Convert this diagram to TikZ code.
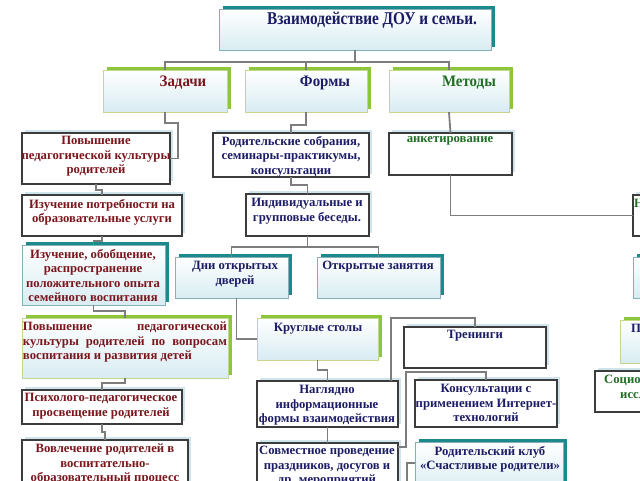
\documentclass[tikz,border=0pt]{standalone}
\usepackage{fontspec}
\setmainfont{Liberation Serif}
\usepackage{graphicx}
\usepackage{tikz}

\definecolor{txtred}{RGB}{122,22,28}
\definecolor{txtblue}{RGB}{28,28,102}
\definecolor{txtgreen}{RGB}{32,110,36}
\definecolor{linkgray}{RGB}{125,125,125}
\definecolor{edgegray}{RGB}{60,60,60}
\definecolor{tealedge}{RGB}{130,178,184}
\definecolor{limeedge}{RGB}{196,214,140}
\definecolor{shteal}{RGB}{28,138,140}
\definecolor{shlime}{RGB}{140,198,60}
\definecolor{shpale}{RGB}{208,228,235}
\definecolor{gradblue}{RGB}{216,236,242}

\tikzset{
  plainbox/.style={draw=edgegray, line width=1.1pt, fill=white, inner sep=0pt, outer sep=0pt, anchor=north west,
    preaction={fill=shpale, transform canvas={shift={(3pt,3pt)}}}},
  tealbox/.style={draw=tealedge, line width=0.8pt, top color=white, bottom color=gradblue, inner sep=0pt, outer sep=0pt, anchor=north west,
    preaction={fill=shteal, transform canvas={shift={(3.5pt,3.5pt)}}}},
  limebox/.style={draw=limeedge, line width=0.8pt, top color=white, bottom color=gradblue, inner sep=0pt, outer sep=0pt, anchor=north west,
    preaction={fill=shlime, transform canvas={shift={(3.5pt,3.5pt)}}}},
  link/.style={draw=linkgray, line width=1.8pt},
  txt/.style={font=\bfseries\fontsize{12.7}{14.5}\selectfont, align=center, inner sep=0pt, anchor=north},
  headtxt/.style={font=\bfseries\fontsize{16}{16}\selectfont, inner sep=0pt, anchor=north},
}

\begin{document}
\begin{tikzpicture}[x=1pt, y=-1pt]
\useasboundingbox (0,0) rectangle (640,480);
\clip (0,0) rectangle (640,480);

% top and headings
\node[tealbox, minimum width=272pt, minimum height=41pt] (title) at (219,9) {};
\node[limebox, minimum width=124pt, minimum height=42pt] (zad) at (103,70) {};
\node[limebox, minimum width=122pt, minimum height=42pt] (form) at (245,70) {};
\node[limebox, minimum width=120pt, minimum height=42pt] (met) at (389,70) {};

% zadachi
\node[plainbox, minimum width=148pt, minimum height=51pt] (povysh) at (22,133) {};
\node[plainbox, minimum width=160pt, minimum height=41pt] (izuch) at (22,195) {};
\node[tealbox, minimum width=143pt, minimum height=60pt] (opyt) at (22,245) {};
\node[limebox, minimum width=206pt, minimum height=60pt] (kultura) at (22,318) {};
\node[plainbox, minimum width=160pt, minimum height=34pt] (prosv) at (22,390) {};
\node[plainbox, minimum width=166pt, minimum height=50pt] (vovlech) at (22,440) {};

% formy
\node[plainbox, minimum width=156pt, minimum height=44pt] (sobr) at (213,133) {};
\node[plainbox, minimum width=123pt, minimum height=42pt] (besedy) at (246,194) {};
\node[tealbox, minimum width=113pt, minimum height=41pt] (dni) at (175,257) {};
\node[tealbox, minimum width=123pt, minimum height=41pt] (zanyat) at (317,257) {};
\node[limebox, minimum width=121pt, minimum height=42pt] (stoly) at (257,318) {};
\node[plainbox, minimum width=141pt, minimum height=46pt] (nagl) at (257,381) {};
\node[plainbox, minimum width=141pt, minimum height=50pt] (prazd) at (257,443) {};
\node[plainbox, minimum width=142pt, minimum height=41pt] (trening) at (404,327) {};
\node[plainbox, minimum width=142pt, minimum height=47pt] (internet) at (415,380) {};
\node[tealbox, minimum width=148pt, minimum height=50pt] (klub) at (415,442) {};

% metody
\node[plainbox, minimum width=123pt, minimum height=42pt] (anket) at (389,133) {};
\node[plainbox, minimum width=60pt, minimum height=41pt] (nabl) at (633,195) {};
\node[tealbox, minimum width=60pt, minimum height=41pt] (metod2) at (633,257) {};
\node[limebox, minimum width=60pt, minimum height=43pt] (metod3) at (620,320) {};
\node[plainbox, minimum width=80pt, minimum height=41pt] (socio) at (595,371) {};

% connectors
\draw[link] (title.south) -- ++(0,12);
\draw[link] (zad.north) -- ++(0,-8) -| (met.north);
\draw[link] (form.north) -- ++(0,-8);
\draw[link] (zad.south) -- ++(0,11) -| ([xshift=8pt]povysh.east) -- (povysh.east);
\draw[link] (povysh.south) -- ++(0,6) -| (izuch.north);
\draw[link] (izuch.south) -- ++(0,5) -| (opyt.north);
\draw[link] (opyt.south) -- ++(0,6) -| (kultura.north);
\draw[link] (kultura.south) -- ++(0,5) -| (prosv.north);
\draw[link] (prosv.south) -- ++(0,8) -| (vovlech.north);
\draw[link] (form.south) -- ++(0,13) -| (sobr.north);
\draw[link] (sobr.south) -- ++(0,8) -| (besedy.north);
\draw[link] (besedy.south) -- ++(0,11);
\draw[link] (dni.north) -- ++(0,-10) -| (zanyat.north);
\draw[link] ([xshift=5pt]dni.south) |- (stoly.west);
\draw[link] (stoly.south) -- ++(0,10) -| (nagl.north);
\draw[link] (nagl.south) -- (prazd.north);
\draw[link] ([xshift=-7pt]nagl.north east) |- ([yshift=9pt]trening.north) -- (trening.north);
\draw[link] ([yshift=-4pt]prazd.north east) -- ++(8,0) |- ([yshift=8pt]internet.north) -- (internet.north);
\coordinate (klubend) at (407,490);
\draw[link] ([yshift=-21pt]klub.north west) -| (klubend);
\draw[link] (met.south) -- (anket.north);
\draw[link] (anket.south) |- (nabl.west);

% texts
\node[headtxt, text=txtblue, font=\bfseries\fontsize{18}{18}\selectfont] (titleT) at (372,12) {\scalebox{0.85}[1]{Взаимодействие ДОУ и семьи.}};
\node[headtxt, text=txtred] (zadT) at (183,76) {\scalebox{0.93}[1]{Задачи}};
\node[headtxt, text=txtblue] (formT) at (325,76) {\scalebox{0.93}[1]{Формы}};
\node[headtxt, text=txtgreen] (metT) at (469,76) {\scalebox{0.93}[1]{Методы}};

\node[txt, text=txtred] (povyshT) at (96,136) {Повышение\\педагогической культуры\\родителей};
\node[txt, text=txtred] (izuchT) at (102,199) {Изучение потребности на\\образовательные услуги};
\node[txt, text=txtred] (opytT) at (93,249) {Изучение, обобщение,\\распространение\\положительного опыта\\семейного воспитания};
\node[txt, text=txtred, text width=204pt, align=justify] (kulturaT) at (125,322) {Повышение педагогической\linebreak культуры родителей по вопросам\linebreak воспитания и развития детей};
\node[txt, text=txtred] (prosvT) at (101,393) {Психолого-педагогическое\\просвещение родителей};
\node[txt, text=txtred] (vovlechT) at (105,444) {Вовлечение родителей в\\воспитательно-\\образовательный процесс};

\node[txt, text=txtblue] (sobrT) at (291,136) {Родительские собрания,\\семинары-практикумы,\\консультации};
\node[txt, text=txtblue] (besedyT) at (307,198) {Индивидуальные и\\групповые беседы.};
\node[txt, text=txtblue] (dniT) at (235,261) {Дни открытых\\дверей};
\node[txt, text=txtblue] (zanyatT) at (378,261) {Открытые занятия};
\node[txt, text=txtblue] (stolyT) at (318,323) {Круглые столы};
\node[txt, text=txtblue] (naglT) at (327,385) {Наглядно\\информационные\\формы взаимодействия};
\node[txt, text=txtblue] (prazdT) at (327,446) {Совместное проведение\\праздников, досугов и\\др. мероприятий};
\node[txt, text=txtblue] (treningT) at (475,330) {Тренинги};
\node[txt, text=txtblue] (internetT) at (486,384) {Консультации с\\применением Интернет-\\технологий};
\node[txt, text=txtblue] (klubT) at (490,446) {Родительский клуб\\«Счастливые родители»};

\node[txt, text=txtgreen] (anketT) at (450,136) {анкетирование};
\node[txt, text=txtgreen, anchor=north west] (nablT) at (634,199) {Н};
\node[txt, text=txtblue, anchor=north west] (metod3T) at (631,324) {П};
\node[txt, text=txtgreen, anchor=north west, align=left] (socioT) at (604,375) {Социо\\\hspace*{16pt}иссл};
\end{tikzpicture}
\end{document}
